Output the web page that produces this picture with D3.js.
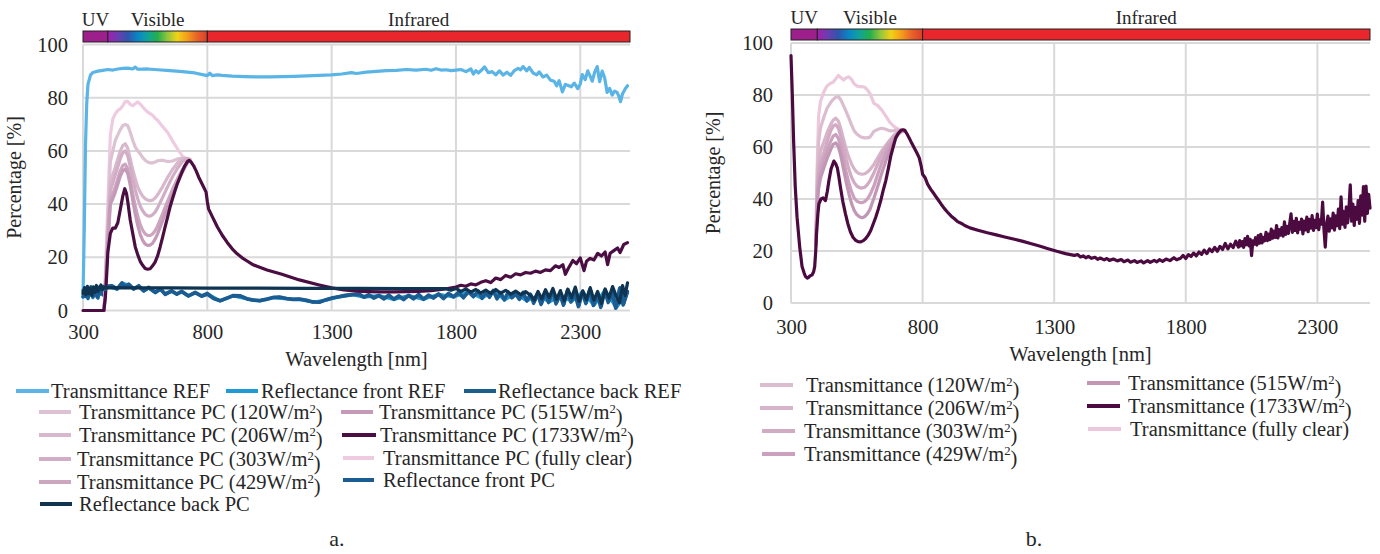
<!DOCTYPE html>
<html><head><meta charset="utf-8">
<script src="https://cdn.jsdelivr.net/npm/d3@7"></script>
<style>
body{margin:0;background:#fff}
svg text, svg tspan{font-family:"Liberation Serif","Times New Roman",serif !important;fill:#262626}
</style>
</head><body>
<svg id="chart" width="1380" height="554" font-family="Liberation Serif, serif"></svg>
<script>
// ---------------- DATA ----------------
const xTicks = [300, 800, 1300, 1800, 2300];
const yTicks = [0, 20, 40, 60, 80, 100];
const bandNames = ["UV", "Visible", "Infrared"];
const bandEdges = [[300, 400], [400, 800], [800, 2500]];
const visibleColors = ["#a31eae", "#6b3eb0", "#2f55ab", "#0b86c6", "#10a39a", "#25ae4c", "#93c53d", "#f2d116", "#f49c1c", "#e8602a", "#d8402a"];
const uvColor = "#9d1f8b", irColor = "#e8262b";

// Panel a: wavelength grid for PC transmittance curves (visible range)
const wlVisA = [385,400,410,420,430,440,450,460,470,480,490,500,510,520,530,540,550,560,570,580,590,600,620,640,660,680,700,720,730];
const aFullyClear = [0,40,66,72,74,75.2,75.8,77,78.5,78.6,77.5,77,77.7,78.4,77.6,76.5,75.5,74.6,74,73.4,72.3,71.5,69.2,67,63.8,60.8,58,56.8,56.5];
const a120 = [0,35,56,60,64,66,68,69.5,70,69.5,67,64,61.5,60,59,57.5,56.5,55.8,55.5,55.5,55.8,56.3,56.5,56,56.2,57,57.2,57,56.6];
const a206 = [0,30,48,51,54,57,60,62,62.7,61,57,53,49.5,46.5,44.5,43,42,41.5,41.3,41.5,42.3,43.5,46.5,50,53,55.5,57,57.2,56.8];
const a303 = [0,28,45,48,51,54,57,59.3,60,58.2,54,49.5,45.5,42,39.3,37.5,36.2,35.6,35.5,36,37,38.6,42.5,46.5,50.3,53.5,56,57,56.8];
const a429 = [0,26,42,44,46.5,49.5,52.5,54.5,55,53.3,49,44,39.3,35.5,32.3,30.2,28.8,28.2,28.2,28.8,30,31.8,36.3,41,45.5,49.6,53,56,56.5];
const a515 = [0,24,40,42,44.5,47.5,50.5,52.5,53.2,51.5,47,41.5,36.3,32,28.6,26.4,25,24.5,24.6,25.3,26.8,28.8,33.7,38.8,43.6,48,52,55.5,56.3];
const a1733 = [[300,0],[384,0],[390,5],[395,13],[400,22],[410,29],[420,31],[430,31],[440,33],[450,38],[460,43],[468,45.8],[475,44],[480,41],[490,34],[500,29],[510,24],[520,21],[530,18.5],[540,17],[550,15.8],[560,15.5],[570,15.7],[580,16.8],[590,18.2],[600,20.5],[610,23.8],[620,27.5],[630,31.3],[640,35],[650,38.9],[660,42],[670,45],[680,47.8],[690,50.2],[700,52.5],[710,54.5],[720,56],[727,56.4],[735,55.8],[745,54.4],[755,52.5],[765,50.2],[775,48.3],[785,46.4],[795,44.5],[800,41],[805,38.2],[820,35.3],[840,31.5],[860,28.3],[880,25.6],[900,23.2],[920,21.3],[940,19.8],[960,18.6],[980,17.4],[1000,16.6],[1040,15.2],[1100,13.6],[1170,11.5],[1250,9.6],[1300,8.5],[1350,7.7],[1400,7.3],[1450,7.1],[1500,7.0],[1550,7.0],[1600,7.1],[1650,7.2],[1700,7.5],[1750,8.0],[1800,8.8],[1820,9.5],[1840,9.1],[1860,10.0],[1880,9.6],[1900,10.6],[1920,11.2],[1940,10.5],[1960,12.2],[1980,11.6],[2000,13.2],[2020,12.5],[2040,13.8],[2060,13.4],[2080,14.3],[2100,14.0],[2120,14.8],[2140,14.3],[2160,15.3],[2180,15.0],[2200,16.8],[2215,16.2],[2230,17.2],[2240,13.6],[2250,15.5],[2270,18.8],[2285,17.6],[2300,19.8],[2315,15.0],[2325,18.5],[2340,19.6],[2355,19.0],[2370,21.5],[2385,20.5],[2400,22.0],[2410,17.2],[2420,21.5],[2435,22.5],[2450,23.5],[2460,21.8],[2475,24.8],[2490,25.5]];
const aTransREF = [[300,5],[305,30],[310,62],[315,78],[320,85],[330,88.5],[340,89.5],[360,90],[380,90.3],[400,90.6],[420,90.4],[440,90.8],[460,91],[480,91.1],[500,90.8],[510,91.5],[520,90.7],[560,90.8],[600,90.5],[650,90.2],[700,89.8],[750,89.3],[790,88.5],[800,88.3],[810,89.2],[820,88.3],[840,88.6],[860,88.4],[900,88.1],[950,87.9],[1000,87.8],[1050,87.8],[1100,87.9],[1150,88],[1200,88.2],[1250,88.4],[1300,88.6],[1340,88.9],[1380,89.4],[1400,89.1],[1440,89.6],[1480,89.9],[1520,90.2],[1560,90.3],[1600,90.6],[1640,90.4],[1680,90.7],[1700,90.3],[1720,90.9],[1740,90.4],[1760,90.5],[1780,90.2],[1800,90.4],[1820,90.6],[1840,89.8],[1860,90.8],[1870,88.9],[1880,90.2],[1890,89.3],[1900,90.1],[1915,91.6],[1930,89.4],[1945,89.8],[1960,88.6],[1975,90.1],[1990,88.5],[2005,89.6],[2020,88.4],[2035,90.2],[2050,91.0],[2060,90.5],[2070,91.7],[2085,90.1],[2095,91.4],[2110,89.3],[2125,88.6],[2135,89.7],[2150,87.8],[2165,88.5],[2180,86.6],[2195,86.2],[2205,84.5],[2215,86.4],[2228,82.2],[2240,85.0],[2252,84.6],[2264,84.1],[2276,85.5],[2290,83.4],[2300,85.2],[2308,88.7],[2320,86.8],[2330,90.1],[2340,88],[2348,86.2],[2358,89.6],[2368,91.7],[2378,86.0],[2388,90.0],[2398,87.5],[2408,82.0],[2418,83.5],[2428,81.0],[2438,82.5],[2448,82.0],[2455,80.6],[2462,78.5],[2470,81.5],[2480,83.2],[2490,84.5]];
const aReflFrontREF = [[300,5.0],[310,7.4],[320,4.4],[330,8.0],[340,4.8],[350,7.0],[360,4.6],[370,8.2],[380,5.8],[390,8.5],[400,9.0],[437,8.0],[457,10.2],[484,9.7],[504,8.0],[524,9.1],[544,7.3],[564,8.5],[591,6.7],[611,8.0],[631,6.1],[657,7.3],[677,6.1],[697,7.1],[724,5.4],[751,6.7],[777,5.4],[800,6.3],[851,3.6],[905,5.5],[960,4.3],[1011,3.6],[1065,4.8],[1120,4.4],[1171,4.2],[1225,3.1],[1280,4.0],[1331,5.1],[1385,5.9],[1430,5.0],[1490,5.6],[1550,4.2],[1610,5.6],[1670,4.2],[1730,6.1],[1790,5.1],[1850,7.0],[1905,4.6],[1950,7.4],[1995,4.0],[2040,6.2],[2085,3.6],[2130,5.7],[2175,3.2],[2220,5.6],[2265,3.4],[2310,7.0],[2355,2.0],[2400,7.6],[2445,1.0],[2490,7.0]];
const aReflBackREF = [[300,5.2],[310,7.8],[320,4.6],[330,8.4],[340,5.0],[350,7.2],[360,4.8],[370,8.6],[380,6.0],[390,8.8],[400,9.3],[417,9.4],[437,8.2],[457,10.5],[471,8.8],[484,10],[504,8.2],[524,9.4],[544,7.5],[564,8.8],[591,6.9],[611,8.2],[631,6.3],[657,7.5],[677,6.3],[697,7.3],[724,5.6],[751,6.9],[777,5.6],[800,6.5],[825,4.6],[851,3.8],[880,4.8],[905,5.7],[931,5.6],[960,4.5],[985,4.0],[1011,3.8],[1040,4.4],[1065,5.0],[1091,5.1],[1120,4.6],[1145,4.3],[1171,4.4],[1200,3.9],[1225,3.3],[1251,3.2],[1280,4.2],[1305,4.9],[1331,5.3],[1360,5.9],[1385,6.1],[1411,6.3],[1430,5.2],[1450,6.0],[1470,4.9],[1490,5.8],[1510,4.6],[1530,5.9],[1550,4.4],[1570,5.6],[1590,4.3],[1610,5.8],[1630,4.6],[1650,6.1],[1670,4.4],[1690,5.9],[1710,4.9],[1730,6.3],[1750,4.7],[1770,6.5],[1790,5.3],[1810,6.9],[1830,5.0],[1850,7.2],[1870,5.4],[1890,7.4],[1905,4.8],[1920,7.0],[1935,5.2],[1950,7.6],[1965,4.6],[1980,6.8],[1995,4.2],[2010,7.1],[2025,5.0],[2040,6.4],[2055,4.4],[2070,6.9],[2085,3.8],[2100,6.2],[2115,3.2],[2130,5.9],[2145,2.6],[2160,6.6],[2175,3.4],[2190,7.4],[2205,2.9],[2220,5.8],[2235,2.4],[2250,7.9],[2265,3.6],[2280,6.7],[2295,1.8],[2310,7.2],[2325,3.0],[2340,8.1],[2355,2.2],[2370,6.4],[2385,1.5],[2400,7.8],[2415,3.3],[2430,6.9],[2445,1.2],[2460,8.6],[2475,2.4],[2490,7.2]];
const aReflFrontPC = [[300,7.5],[308,5.2],[316,8.7],[324,5.4],[332,9.0],[340,5.7],[348,8.3],[356,5.1],[364,8.8],[372,6.2],[380,9.1],[390,7.8],[400,8.9],[417,9.1],[437,8.0],[457,10.2],[471,8.6],[484,9.7],[504,8.0],[524,9.1],[544,7.3],[564,8.5],[591,6.7],[611,7.9],[631,6.0],[657,7.2],[677,6.1],[697,7.0],[724,5.4],[751,6.6],[777,5.3],[800,6.0],[825,4.4],[851,3.6],[880,4.6],[905,5.5],[931,5.4],[960,4.3],[985,3.8],[1011,3.6],[1040,4.2],[1065,4.8],[1091,4.9],[1120,4.4],[1145,4.1],[1171,4.2],[1200,3.7],[1225,3.1],[1251,3.0],[1280,4.0],[1305,4.7],[1331,5.1],[1360,5.6],[1385,5.9],[1411,6.0],[1430,4.9],[1450,5.7],[1470,4.6],[1490,5.5],[1510,4.3],[1530,5.6],[1550,4.1],[1570,5.3],[1590,4.0],[1610,5.5],[1630,4.3],[1650,5.8],[1670,4.1],[1690,5.6],[1710,4.6],[1730,6.0],[1750,4.4],[1770,6.2],[1790,5.0],[1810,6.6],[1830,4.7],[1850,6.9],[1870,5.1],[1890,7.1],[1905,4.5],[1920,6.7],[1935,4.9],[1950,7.3],[1965,4.3],[1980,6.5],[1995,3.9],[2010,6.8],[2025,4.7],[2040,6.1],[2055,4.1],[2070,6.6],[2085,3.5],[2100,5.9],[2112,2.6],[2127,6.3],[2142,2.2],[2157,6.9],[2172,2.9],[2187,7.1],[2202,2.4],[2217,6.2],[2232,1.9],[2247,7.5],[2262,3.1],[2277,6.3],[2292,1.4],[2307,6.8],[2322,2.5],[2337,7.7],[2352,1.8],[2367,6.0],[2382,1.1],[2397,7.4],[2412,2.9],[2427,6.5],[2442,0.8],[2457,8.2],[2472,2.0],[2490,6.8]];
const aReflBackPC = [[300,6.4],[306,8.6],[312,5.9],[318,9.1],[324,6.3],[330,8.4],[336,5.6],[342,8.9],[348,6.8],[354,9.4],[360,7.2],[366,8.1],[372,9.6],[378,7.9],[384,8.8],[392,8.4],[400,8.6],[500,8.5],[650,8.5],[800,8.4],[1000,8.4],[1200,8.3],[1400,8.3],[1600,8.2],[1760,8.2],[1780,7.6],[1800,8.3],[1820,7.2],[1840,8.1],[1860,6.9],[1880,7.9],[1900,6.6],[1920,7.7],[1940,6.4],[1960,7.9],[1980,6.5],[2000,7.6],[2020,6.2],[2040,7.3],[2060,6.0],[2080,7.1],[2100,5.6],[2115,3.9],[2130,7.2],[2145,4.4],[2160,7.8],[2175,4.9],[2190,8.3],[2205,4.2],[2220,7.5],[2235,3.6],[2250,8.0],[2265,4.8],[2280,8.8],[2295,3.4],[2310,7.4],[2325,4.1],[2340,8.6],[2355,3.9],[2370,7.2],[2385,2.6],[2400,8.1],[2415,4.7],[2430,9.0],[2445,5.3],[2458,2.9],[2470,9.4],[2480,5.6],[2490,10.4]];

// Panel b
const wlVisB = [395,400,405,412,425,437,450,460,470,480,490,500,510,520,530,540,550,560,570,580,590,600,615,630,645,660,675,690,705,720,732];
const bFullyClear = [28,55,72,77.5,81.3,83.5,84.5,84.9,86.2,87.5,86.6,85.8,86.6,87,86,84.3,83.5,83.2,83.2,83,82,80.6,76.8,75.9,74.2,72,69.6,68,67,66.4,66.3];
const b120 = [26,50,62,67.3,71.5,74.9,77,78.3,79.1,79.4,78,75.8,73.5,71.1,68.5,66.2,65,64.2,63.7,63.5,63.5,63.8,66,66.8,67.2,66.8,66.2,66.3,66.6,66.5,66.3];
const b206 = [25,45,54,58.4,62,65.5,68.5,70.3,71.1,70,66.8,62.8,59,56,53.5,51.6,50.3,49.7,49.5,49.7,50.3,51.3,53.3,55.9,58.5,60.6,62.6,64.4,65.7,66.3,66.4];
const b303 = [24,42,50,54,58,62,66,68,68.6,67.2,63.8,59.6,55.2,51.4,48.4,46.3,45,44.4,44.2,44.5,45.5,47,50,53.6,57,59.8,62,64,65.4,66.2,66.4];
const b429 = [23,40,47,51,55,58.5,62,64.2,64.8,63.3,59.5,54.8,50.2,46.2,42.8,40.4,39.2,38.7,38.6,39,40,41.6,45,49.6,54,57.6,60.6,63.2,65,66.1,66.4];
const b515 = [22,38,44,48,52,55.5,58.8,61,61.6,60.2,56.3,51.3,46.3,42,38.3,35.6,34,33.2,32.8,33.2,34.3,36,40.3,45,50,54.5,58.6,62,64.6,66,66.4];
const b1733 = [[300,95.2],[305,80],[310,62],[316,45],[323,33],[333,21.6],[342,14],[350,11.5],[355,10.2],[362,9.6],[367,9.9],[372,10.4],[380,10.8],[386,12],[390,14],[394,20],[397,26.7],[402,34],[406,38.1],[414,40],[422,40.4],[431,39.4],[438,43],[444,47],[452,51.5],[463,54.6],[470,53.5],[476,52],[482,48.5],[488,44.4],[497,39],[507,34.3],[516,30.5],[526,27.3],[536,25.2],[546,24.1],[555,23.6],[565,23.5],[575,24],[584,24.8],[594,26.2],[603,27.9],[612,30.3],[622,33],[632,36.2],[641,39.4],[650,43.2],[660,47],[670,51.8],[679,56.5],[689,60.3],[698,63.5],[708,65.3],[717,66.3],[725,66.6],[733,66.3],[741,65],[749,63.5],[758,61.6],[768,59.7],[778,57.8],[787,55.9],[795,52.5],[800,49.5],[809,48.3],[819,45.7],[831,43.7],[844,41.9],[857,40],[870,38.1],[883,36.3],[895,34.9],[908,33.5],[921,32.4],[933,31.3],[946,30.7],[960,29.8],[980,28.9],[1010,28],[1046,27],[1080,26.2],[1112,25.4],[1145,24.6],[1178,23.8],[1210,22.9],[1244,21.9],[1277,20.9],[1310,19.9],[1343,19.0],[1376,18.3],[1390,18.6],[1400,17.7],[1410,18.1],[1420,17.4],[1430,17.9],[1442,17.2],[1455,17.6],[1465,16.8],[1475,17.3],[1490,16.6],[1500,17.1],[1510,16.4],[1525,16.9],[1540,16.2],[1555,16.7],[1565,15.9],[1580,16.5],[1590,15.7],[1605,16.3],[1615,15.6],[1630,16.2],[1640,15.4],[1655,16.3],[1665,15.6],[1680,16.4],[1690,15.8],[1700,16.7],[1712,16.0],[1725,16.9],[1740,16.3],[1755,17.4],[1765,16.6],[1780,17.2],[1790,18.3],[1800,17.1],[1810,18.6],[1820,17.9],[1830,19.2],[1840,18.1],[1850,19.6],[1860,18.7],[1870,20.3],[1880,19.0],[1890,20.8],[1900,19.8],[1910,21.4],[1920,19.9],[1930,21.8],[1940,20.6],[1950,22.9],[1960,20.8],[1970,22.6],[1980,21.3],[1990,23.8],
  [2000,21.5],[2005,24.0],[2010,22.0],[2015,23.6],[2020,21.4],[2025,24.8],[2030,22.4],[2035,25.6],[2040,22.0],[2045,24.5],[2050,18.2],[2055,23.9],[2060,22.6],[2065,25.1],[2070,22.3],[2075,25.9],[2080,23.0],[2085,26.4],[2090,23.1],[2095,25.2],[2100,23.9],[2105,27.2],[2110,24.0],[2115,26.5],[2120,24.4],[2125,28.4],[2130,24.9],[2135,27.6],[2140,25.2],[2145,29.8],[2150,25.0],[2155,28.2],[2160,26.1],[2165,29.0],[2170,25.7],[2175,31.2],[2180,26.4],[2185,29.5],[2190,26.8],[2195,30.6],[2200,34.3],[2205,27.2],[2210,31.4],[2215,27.9],[2220,32.6],[2225,27.0],[2230,31.0],[2235,28.4],[2240,32.3],[2245,26.6],[2250,31.5],[2255,28.1],[2260,33.0],[2265,27.4],[2270,32.2],[2275,28.8],[2280,33.6],[2285,27.9],[2290,31.8],[2295,29.0],[2300,34.2],[2305,28.2],[2310,32.0],[2315,30.3],[2320,38.8],[2325,28.5],[2330,21.5],[2335,30.2],[2340,33.4],[2345,27.6],[2350,32.4],[2355,28.9],[2360,34.6],[2365,28.0],[2370,33.5],[2375,29.7],[2380,36.1],[2385,28.6],[2390,40.8],[2395,30.3],[2400,35.2],[2405,29.1],[2410,37.0],[2415,30.8],[2420,36.0],[2425,45.4],[2430,31.5],[2435,38.0],[2440,29.8],[2445,36.8],[2450,32.2],[2455,39.4],[2460,30.6],[2465,41.2],[2470,33.8],[2475,44.8],[2480,31.5],[2485,45.0],[2490,34.5],[2495,41.8],[2500,36.5]];

// ---------------- SERIES ----------------
const zipVis = (wl, v) => wl.map((w, i) => [w, v[i]]);
const seriesA = [
  {name: "Transmittance REF", color: "#5ab4e5", data: aTransREF},
  {name: "Reflectance front REF", color: "#1f9ad6", data: aReflFrontREF},
  {name: "Reflectance back REF", color: "#1d5f8c", data: aReflBackREF},
  {name: "Transmittance PC (fully clear)", color: "#eecbe0", data: zipVis(wlVisA, aFullyClear)},
  {name: "Transmittance PC (120W/m²)", color: "#dcc2d3", data: zipVis(wlVisA, a120)},
  {name: "Transmittance PC (206W/m²)", color: "#d7b8cc", data: zipVis(wlVisA, a206)},
  {name: "Transmittance PC (303W/m²)", color: "#d2aec6", data: zipVis(wlVisA, a303)},
  {name: "Transmittance PC (429W/m²)", color: "#cca5bf", data: zipVis(wlVisA, a429)},
  {name: "Transmittance PC (515W/m²)", color: "#c49ab8", data: zipVis(wlVisA, a515)},
  {name: "Transmittance PC (1733W/m²)", color: "#4b0e42", data: a1733},
  {name: "Reflectance front PC", color: "#1b5d92", data: aReflFrontPC},
  {name: "Reflectance back PC", color: "#0e3452", data: aReflBackPC}
];
const seriesB = [
  {name: "Transmittance (fully clear)", color: "#ecc8dd", data: zipVis(wlVisB, bFullyClear)},
  {name: "Transmittance (120W/m²)", color: "#dcbdd0", data: zipVis(wlVisB, b120)},
  {name: "Transmittance (206W/m²)", color: "#d7b4c9", data: zipVis(wlVisB, b206)},
  {name: "Transmittance (303W/m²)", color: "#d1aac3", data: zipVis(wlVisB, b303)},
  {name: "Transmittance (429W/m²)", color: "#cba1bd", data: zipVis(wlVisB, b429)},
  {name: "Transmittance (515W/m²)", color: "#c297b5", data: zipVis(wlVisB, b515)},
  {name: "Transmittance (1733W/m²)", color: "#4c0b40", data: b1733}
];
// legend layout: [series name, lineX0, lineX1, textX, y]
const legendA = [
  ["Transmittance REF", 16, 49, 51, 391],
  ["Reflectance front REF", 226, 258, 261, 391],
  ["Reflectance back REF", 464, 496, 498, 391],
  ["Transmittance PC (120W/m²)", 39, 71, 79, 412],
  ["Transmittance PC (206W/m²)", 39, 71, 79, 435],
  ["Transmittance PC (303W/m²)", 39, 71, 77, 459],
  ["Transmittance PC (429W/m²)", 39, 71, 77, 482],
  ["Reflectance back PC", 40, 72, 79, 504],
  ["Transmittance PC (515W/m²)", 341, 373, 379, 412],
  ["Transmittance PC (1733W/m²)", 342, 376, 380, 435],
  ["Transmittance PC (fully clear)", 343, 374, 383, 458],
  ["Reflectance front PC", 343, 374, 383, 480]
];
const legendB = [
  ["Transmittance (120W/m²)", 760, 793, 806, 385],
  ["Transmittance (206W/m²)", 760, 793, 806, 408],
  ["Transmittance (303W/m²)", 762, 795, 804, 431],
  ["Transmittance (429W/m²)", 762, 795, 804, 454],
  ["Transmittance (515W/m²)", 1087, 1120, 1128, 383],
  ["Transmittance (1733W/m²)", 1087, 1120, 1128, 406],
  ["Transmittance (fully clear)", 1088, 1121, 1130, 429]
];

// ---------------- DRAW ----------------
const FONT = '"Liberation Serif","Times New Roman",serif';
const svg = d3.select("#chart");
const defs = svg.append("defs");
const grad = defs.append("linearGradient").attr("id", "visgrad").attr("x1", "0%").attr("x2", "100%");
grad.selectAll("stop").data(visibleColors).join("stop")
  .attr("offset", (d, i) => (i / (visibleColors.length - 1) * 100) + "%")
  .attr("stop-color", d => d);

function setText(sel, txt) {
  const parts = txt.split("²");
  if (parts.length === 1) { sel.text(txt); return; }
  sel.append("tspan").text(parts[0]);
  sel.append("tspan").attr("font-size", "0.62em").attr("dy", "-0.5em").text("2");
  sel.append("tspan").attr("dy", "0.5em").text(parts[1]);
}

function drawPanel(cfg) {
  const g = svg.append("g").attr("font-family", FONT);
  const clipId = "clip" + cfg.id;
  defs.append("clipPath").attr("id", clipId).append("rect")
    .attr("x", cfg.x0 - 2).attr("y", cfg.y1 - 2).attr("width", cfg.x1 - cfg.x0 + 4).attr("height", cfg.y0 - cfg.y1 + 4);
  const x = d3.scaleLinear().domain([300, 2500]).range([cfg.x0, cfg.x1]);
  const y = d3.scaleLinear().domain([0, 100]).range([cfg.y0, cfg.y1]);

  // gridlines
  g.append("g").selectAll("line").data(yTicks).join("line")
    .attr("x1", cfg.x0).attr("x2", cfg.x1).attr("y1", d => y(d)).attr("y2", d => y(d))
    .attr("stroke", "#d9d9d9").attr("stroke-width", 2);
  g.append("g").selectAll("line").data(xTicks).join("line")
    .attr("x1", d => x(d)).attr("x2", d => x(d)).attr("y1", y(0)).attr("y2", y(100))
    .attr("stroke", "#d9d9d9").attr("stroke-width", 2);

  // axes
  const ax = g.append("g").attr("transform", `translate(0,${cfg.y0})`)
    .call(d3.axisBottom(x).tickValues(xTicks).tickFormat(d3.format("d")).tickSize(0).tickPadding(cfg.xPad));
  ax.attr("font-family", FONT).attr("font-size", 20.5);
  ax.select(".domain").remove();
  ax.selectAll("text").attr("font-family", FONT).attr("fill", "#262626");
  const ay = g.append("g").attr("transform", `translate(${cfg.x0},0)`)
    .call(d3.axisLeft(y).tickValues(yTicks).tickFormat(d3.format("d")).tickSize(0).tickPadding(cfg.yPad));
  ay.attr("font-family", FONT).attr("font-size", 20.5);
  ay.select(".domain").remove();
  ay.selectAll("text").attr("font-family", FONT).attr("fill", "#262626");

  g.append("text").attr("x", (cfg.x0 + cfg.x1) / 2).attr("y", cfg.xTitleY)
    .attr("text-anchor", "middle").attr("font-size", 20.5).text("Wavelength [nm]");
  g.append("text").attr("transform", `translate(${cfg.yTitleX},${(cfg.y0 + cfg.y1) / 2}) rotate(-90)`)
    .attr("text-anchor", "middle").attr("font-size", 20).text("Percentage [%]");

  // spectrum band
  const bandFill = [uvColor, "url(#visgrad)", irColor];
  g.append("g").selectAll("rect").data(bandEdges).join("rect")
    .attr("x", d => x(d[0])).attr("width", d => x(d[1]) - x(d[0]))
    .attr("y", cfg.bandY).attr("height", cfg.bandH)
    .attr("fill", (d, i) => bandFill[i]).attr("stroke", "#222").attr("stroke-width", 1);
  g.append("g").selectAll("text").data(bandEdges).join("text")
    .attr("x", d => x((d[0] + d[1]) / 2)).attr("y", cfg.bandY - 5)
    .attr("text-anchor", "middle").attr("font-size", 19).text((d, i) => bandNames[i]);

  // series lines
  const line = d3.line().x(d => x(d[0])).y(d => y(d[1])).curve(d3.curveLinear);
  const lg = g.append("g").attr("clip-path", `url(#${clipId})`);
  cfg.series.forEach(s => {
    lg.append("path").datum(s.data).attr("d", line)
      .attr("fill", "none").attr("stroke", s.color).attr("stroke-width", 3.2)
      .attr("stroke-linejoin", "round").attr("stroke-linecap", "round");
  });

  // legend
  const colorOf = name => cfg.series.find(s => s.name === name).color;
  const leg = g.append("g").attr("clip-path", cfg.legendClip ? "url(#legclip)" : null);
  cfg.legend.forEach(([name, lx0, lx1, tx, ly]) => {
    leg.append("line").attr("x1", lx0).attr("x2", lx1).attr("y1", ly).attr("y2", ly)
      .attr("stroke", colorOf(name)).attr("stroke-width", 4);
    const t = leg.append("text").attr("x", tx).attr("y", ly + 7).attr("font-size", 20.5);
    setText(t, name);
  });

  g.append("text").attr("x", cfg.capX).attr("y", 546).attr("text-anchor", "middle")
    .attr("font-size", 22).text(cfg.caption);
}

defs.append("clipPath").attr("id", "legclip").append("rect").attr("x", 0).attr("y", 360).attr("width", 686).attr("height", 170);

drawPanel({id: "a", x0: 83, x1: 630, y0: 310.5, y1: 44.5, xPad: 14, yPad: 15, xTitleY: 366, yTitleX: 21,
  bandY: 31, bandH: 11, series: seriesA, legend: legendA, legendClip: true, caption: "a.", capX: 337});
drawPanel({id: "b", x0: 791, x1: 1370, y0: 303, y1: 43, xPad: 16, yPad: 18, xTitleY: 361, yTitleX: 720,
  bandY: 29, bandH: 11, series: seriesB, legend: legendB, legendClip: false, caption: "b.", capX: 1034});
</script>
</body></html>
